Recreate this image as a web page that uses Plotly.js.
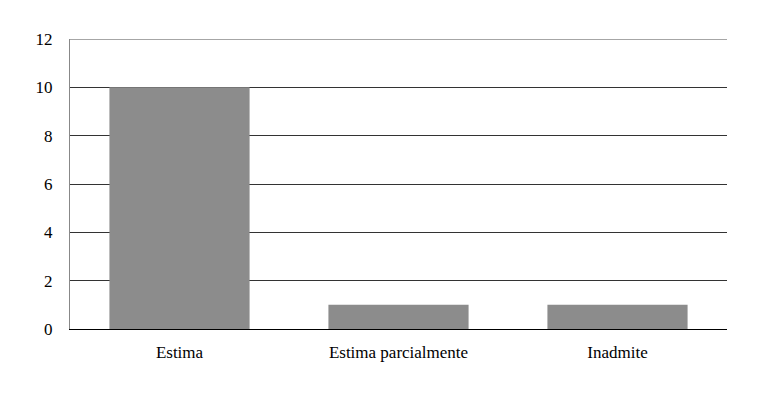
<!DOCTYPE html>
<html><head><meta charset="utf-8">
<script src="https://cdn.plot.ly/plotly-3.0.1.min.js"></script>
<style>body{margin:0;padding:0;background:#fff}#c{width:769px;height:394px}</style>
</head><body><div id="c"></div>
<script>
const categories = ["Estima", "Estima parcialmente", "Inadmite"];
const values = [10, 1, 1];
const yTicks = [0, 2, 4, 6, 8, 10, 12];

Plotly.newPlot('c', [{
  type: 'bar', x: categories, y: values,
  marker: {color: '#8c8c8c'}, hoverinfo: 'none'
}], {
  width: 769, height: 394,
  margin: {l: 70, r: 42, t: 39, b: 65},
  paper_bgcolor: '#fff', plot_bgcolor: '#fff',
  font: {family: "Times New Roman, Liberation Serif, DejaVu Serif, serif", size: 17, color: '#000'},
  bargap: 0.36,
  showlegend: false,
  xaxis: {showgrid: false, showline: true, linecolor: '#000', linewidth: 1, ticks: '', ticklabelstandoff: 8, zeroline: false, mirror: false},
  yaxis: {range: [0, 12], tickvals: yTicks, ticktext: yTicks.map(String), showgrid: true, gridcolor: '#333', gridwidth: 1,
          showline: true, linecolor: '#888', linewidth: 1, ticks: '', ticklabelstandoff: 13, zeroline: false},
  shapes: [{type: 'line', xref: 'paper', yref: 'y', x0: 0, x1: 1, y0: yTicks[yTicks.length - 1], y1: yTicks[yTicks.length - 1],
            line: {color: '#888', width: 1.5}, layer: 'below'}]
}, {displayModeBar: false, staticPlot: true});
</script></body></html>
